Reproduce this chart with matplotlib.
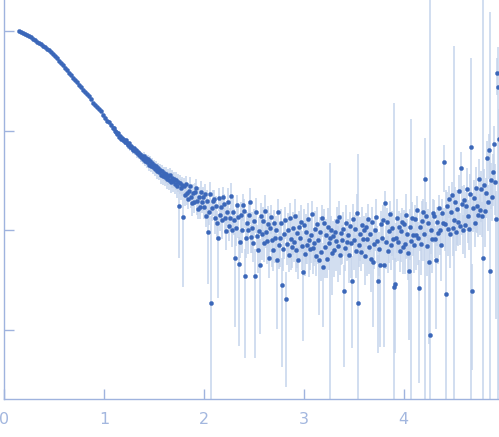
import numpy as np
import matplotlib
matplotlib.use("Agg")
import matplotlib.pyplot as plt
from matplotlib.ticker import FixedLocator, NullLocator, NullFormatter

# scattering vector (low q part, coarse sampling)
q_low = [0.15, 0.17, 0.19, 0.21, 0.23, 0.25, 0.27, 0.29, 0.31, 0.33,
         0.35, 0.37, 0.39, 0.41, 0.43, 0.45, 0.47, 0.49, 0.51, 0.53,
         0.55, 0.57, 0.59, 0.61, 0.63, 0.65, 0.67, 0.69, 0.71, 0.73,
         0.75, 0.77, 0.79, 0.81, 0.83, 0.85, 0.87, 0.89, 0.91, 0.93,
         0.95, 0.97, 0.99, 1.01, 1.03, 1.05, 1.07, 1.09]

# log10 intensity for the low q part
logI_low = [0.00, -0.01, -0.02, -0.03, -0.04, -0.05, -0.06, -0.08, -0.09, -0.11,
            -0.12, -0.13, -0.15, -0.16, -0.18, -0.19, -0.21, -0.23, -0.25, -0.27,
            -0.30, -0.32, -0.34, -0.37, -0.39, -0.42, -0.44, -0.47, -0.49, -0.51,
            -0.54, -0.56, -0.59, -0.61, -0.63, -0.65, -0.68, -0.72, -0.74, -0.76,
            -0.78, -0.80, -0.84, -0.87, -0.90, -0.91, -0.94, -0.97]

# relative error (sigma / I) for the low q part
err_low = [
    0.01, 0.01, 0.01, 0.01, 0.01, 0.01, 0.01, 0.01, 0.01, 0.01,
    0.01, 0.01, 0.01, 0.01, 0.01, 0.01, 0.01, 0.01, 0.01, 0.01,
    0.01, 0.01, 0.01, 0.01, 0.01, 0.01, 0.01, 0.01, 0.01, 0.01,
    0.02, 0.02, 0.02, 0.02, 0.02, 0.02, 0.02, 0.02, 0.02, 0.02,
    0.02, 0.02, 0.03, 0.03, 0.03, 0.03, 0.03, 0.03]

q_high = [
    1.10, 1.11, 1.12, 1.13, 1.14, 1.15, 1.16, 1.17, 1.18, 1.19,
    1.20, 1.21, 1.22, 1.23, 1.24, 1.25, 1.26, 1.27, 1.28, 1.29,
    1.30, 1.31, 1.32, 1.33, 1.34, 1.35, 1.36, 1.37, 1.38, 1.39,
    1.40, 1.41, 1.42, 1.43, 1.44, 1.45, 1.46, 1.47, 1.48, 1.49,
    1.50, 1.51, 1.52, 1.53, 1.54, 1.55, 1.56, 1.57, 1.58, 1.59,
    1.60, 1.61, 1.62, 1.63, 1.64, 1.65, 1.66, 1.67, 1.68, 1.69,
    1.70, 1.71, 1.72, 1.73, 1.74, 1.75, 1.76, 1.77, 1.78, 1.79,
    1.80, 1.81, 1.82, 1.83, 1.84, 1.85, 1.86, 1.87, 1.88, 1.89,
    1.90, 1.91, 1.92, 1.93, 1.94, 1.95, 1.96, 1.97, 1.98, 1.99,
    2.00, 2.01, 2.02, 2.03, 2.04, 2.05, 2.06, 2.07, 2.08, 2.09,
    2.10, 2.11, 2.12, 2.13, 2.14, 2.15, 2.16, 2.17, 2.18, 2.19,
    2.20, 2.21, 2.22, 2.23, 2.24, 2.25, 2.26, 2.27, 2.28, 2.29,
    2.30, 2.31, 2.32, 2.33, 2.34, 2.35, 2.36, 2.37, 2.38, 2.39,
    2.40, 2.41, 2.42, 2.43, 2.44, 2.45, 2.46, 2.47, 2.48, 2.49,
    2.50, 2.51, 2.52, 2.53, 2.54, 2.55, 2.56, 2.57, 2.58, 2.59,
    2.60, 2.61, 2.62, 2.63, 2.64, 2.65, 2.66, 2.67, 2.68, 2.69,
    2.70, 2.71, 2.72, 2.73, 2.74, 2.75, 2.76, 2.77, 2.78, 2.79,
    2.80, 2.81, 2.82, 2.83, 2.84, 2.85, 2.86, 2.87, 2.88, 2.89,
    2.90, 2.91, 2.92, 2.93, 2.94, 2.95, 2.96, 2.97, 2.98, 2.99,
    3.00, 3.01, 3.02, 3.03, 3.04, 3.05, 3.06, 3.07, 3.08, 3.09,
    3.10, 3.11, 3.12, 3.13, 3.14, 3.15, 3.16, 3.17, 3.18, 3.19,
    3.20, 3.21, 3.22, 3.23, 3.24, 3.25, 3.26, 3.27, 3.28, 3.29,
    3.30, 3.31, 3.32, 3.33, 3.34, 3.35, 3.36, 3.37, 3.38, 3.39,
    3.40, 3.41, 3.42, 3.43, 3.44, 3.45, 3.46, 3.47, 3.48, 3.49,
    3.50, 3.51, 3.52, 3.53, 3.54, 3.55, 3.56, 3.57, 3.58, 3.59,
    3.60, 3.61, 3.62, 3.63, 3.64, 3.65, 3.66, 3.67, 3.68, 3.69,
    3.70, 3.71, 3.72, 3.73, 3.74, 3.75, 3.76, 3.77, 3.78, 3.79,
    3.80, 3.81, 3.82, 3.83, 3.84, 3.85, 3.86, 3.87, 3.88, 3.89,
    3.90, 3.91, 3.92, 3.93, 3.94, 3.95, 3.96, 3.97, 3.98, 3.99,
    4.00, 4.01, 4.02, 4.03, 4.04, 4.05, 4.06, 4.07, 4.08, 4.09,
    4.10, 4.11, 4.12, 4.13, 4.14, 4.15, 4.16, 4.17, 4.18, 4.19,
    4.20, 4.21, 4.22, 4.23, 4.24, 4.25, 4.26, 4.27, 4.28, 4.29,
    4.30, 4.31, 4.32, 4.33, 4.34, 4.35, 4.36, 4.37, 4.38, 4.39,
    4.40, 4.41, 4.42, 4.43, 4.44, 4.45, 4.46, 4.47, 4.48, 4.49,
    4.50, 4.51, 4.52, 4.53, 4.54, 4.55, 4.56, 4.57, 4.58, 4.59,
    4.60, 4.61, 4.62, 4.63, 4.64, 4.65, 4.66, 4.67, 4.68, 4.69,
    4.70, 4.71, 4.72, 4.73, 4.74, 4.75, 4.76, 4.77, 4.78, 4.79,
    4.80, 4.81, 4.82, 4.83, 4.84, 4.85, 4.86, 4.87, 4.88, 4.89,
    4.90, 4.91, 4.92, 4.93, 4.94, 4.95]

logI_high = [
    -0.97, -1.00, -1.01, -1.03, -1.02, -1.06, -1.05, -1.08, -1.07, -1.10,
    -1.09, -1.12, -1.10, -1.13, -1.15, -1.13, -1.17, -1.16, -1.18, -1.20,
    -1.18, -1.21, -1.20, -1.23, -1.22, -1.25, -1.24, -1.27, -1.26, -1.29,
    -1.26, -1.31, -1.28, -1.32, -1.29, -1.35, -1.31, -1.36, -1.33, -1.37,
    -1.35, -1.39, -1.36, -1.41, -1.38, -1.42, -1.40, -1.45, -1.41, -1.46,
    -1.43, -1.47, -1.44, -1.49, -1.46, -1.50, -1.45, -1.52, -1.48, -1.51,
    -1.49, -1.54, -1.50, -1.56, -1.52, -1.76, -1.53, -1.58, -1.55, -1.87,
    -1.56, -1.65, -1.54, -1.63, -1.69, -1.61, -1.56, -1.67, -1.73, -1.63,
    -1.72, -1.62, -1.58, -1.71, -1.79, -1.67, -1.77, -1.62, -1.72, -1.67,
    -1.77, -1.64, -1.86, -1.71, -2.02, -1.82, -1.64, -2.73, -1.78, -1.71,
    -1.69, -1.88, -1.76, -1.93, -2.08, -1.68, -1.85, -1.77, -1.90, -1.67,
    -1.74, -1.88, -2.01, -1.82, -1.72, -1.96, -1.88, -1.66, -2.00, -1.82,
    -1.90, -2.28, -1.98, -1.75, -1.87, -2.34, -2.12, -1.85, -2.00, -1.75,
    -1.81, -2.46, -2.08, -1.93, -2.00, -1.85, -1.72, -2.07, -1.98, -2.13,
    -1.91, -2.46, -1.82, -2.06, -2.20, -2.01, -2.35, -1.86, -2.04, -1.91,
    -2.13, -1.81, -2.02, -2.11, -1.94, -2.28, -1.98, -1.87, -2.10, -2.20,
    -1.93, -2.08, -2.00, -2.30, -1.82, -2.15, -2.08, -1.93, -2.55, -2.19,
    -2.04, -1.90, -2.69, -2.14, -2.00, -2.25, -1.88, -2.09, -2.17, -1.98,
    -2.12, -1.86, -2.20, -2.03, -2.30, -1.97, -2.08, -1.92, -2.16, -2.42,
    -1.95, -2.24, -2.02, -2.15, -1.89, -2.10, -2.19, -2.05, -1.84, -2.18,
    -2.13, -1.99, -2.26, -1.94, -2.10, -2.30, -2.02, -2.22, -1.88, -2.37,
    -1.93, -2.17, -2.05, -2.29, -1.97, -2.13, -2.08, -2.00, -2.23, -2.06,
    -2.20, -2.02, -2.11, -1.91, -2.16, -1.87, -2.25, -2.03, -2.10, -1.99,
    -2.61, -2.18, -1.93, -2.12, -2.05, -2.25, -1.96, -2.13, -2.51, -1.89,
    -2.10, -1.99, -2.21, -1.83, -2.73, -2.15, -2.04, -2.22, -1.95, -2.09,
    -2.00, -2.26, -1.97, -2.09, -1.89, -2.17, -2.04, -2.29, -1.92, -2.32,
    -2.14, -2.00, -1.87, -2.11, -2.51, -2.19, -2.35, -1.94, -2.08, -1.90,
    -2.35, -1.73, -2.12, -1.92, -2.21, -2.01, -1.84, -2.15, -1.98, -2.09,
    -2.57, -2.54, -2.08, -1.88, -2.12, -1.97, -2.21, -2.01, -1.92, -2.17,
    -1.94, -2.14, -1.85, -2.04, -2.23, -2.41, -1.97, -2.11, -1.88, -2.05,
    -2.15, -1.89, -2.05, -1.80, -2.08, -2.58, -1.97, -2.14, -1.91, -1.82,
    -2.04, -1.49, -1.86, -2.16, -1.93, -2.32, -3.05, -2.00, -2.09, -1.83,
    -1.86, -2.09, -2.30, -1.92, -2.03, -1.78, -2.00, -2.15, -1.83, -1.93,
    -1.32, -1.94, -2.64, -1.76, -1.99, -1.69, -2.04, -1.82, -1.65, -1.98,
    -1.90, -1.72, -2.02, -1.79, -1.92, -1.61, -1.96, -1.38, -1.74, -2.00,
    -1.70, -1.95, -1.76, -1.59, -1.86, -1.99, -1.64, -1.17, -2.61, -1.78,
    -1.68, -1.93, -1.58, -1.76, -1.85, -1.49, -1.80, -1.59, -1.86, -2.28,
    -1.55, -1.81, -1.63, -1.28, -1.72, -1.20, -2.41, -1.50, -1.67, -1.42,
    -1.14, -1.52, -1.89, -0.42, -0.56, -1.08]

err_high = [
    0.03, 0.04, 0.03, 0.04, 0.04, 0.05, 0.04, 0.05, 0.04, 0.05,
    0.05, 0.06, 0.05, 0.06, 0.07, 0.06, 0.07, 0.06, 0.07, 0.08,
    0.07, 0.08, 0.07, 0.09, 0.08, 0.09, 0.08, 0.10, 0.09, 0.10,
    0.10, 0.11, 0.10, 0.12, 0.11, 0.13, 0.12, 0.13, 0.12, 0.14,
    0.13, 0.15, 0.14, 0.16, 0.14, 0.17, 0.15, 0.18, 0.16, 0.18,
    0.17, 0.19, 0.18, 0.20, 0.18, 0.21, 0.19, 0.22, 0.20, 0.22,
    0.19, 0.21, 0.20, 0.23, 0.20, 0.70, 0.22, 0.24, 0.22, 0.80,
    0.20, 0.22, 0.20, 0.24, 0.21, 0.19, 0.25, 0.22, 0.26, 0.23,
    0.22, 0.25, 0.23, 0.27, 0.21, 0.28, 0.24, 0.30, 0.23, 0.27,
    0.24, 0.28, 0.22, 0.30, 0.70, 0.26, 0.32, 6.50, 0.25, 0.29,
    0.23, 0.31, 0.27, 0.33, 0.75, 0.26, 0.30, 0.24, 0.35, 0.28,
    0.26, 0.31, 0.36, 0.28, 0.38, 0.30, 0.25, 0.35, 0.32, 0.40,
    0.29, 0.80, 0.34, 0.28, 0.38, 0.85, 0.31, 0.36, 0.41, 0.30,
    0.32, 0.85, 0.37, 0.29, 0.42, 0.33, 0.39, 0.31, 0.44, 0.35,
    0.33, 0.85, 0.38, 0.30, 0.42, 0.39, 0.80, 0.34, 0.45, 0.37,
    0.35, 0.46, 0.31, 0.41, 0.52, 0.37, 0.43, 0.33, 0.47, 0.39,
    0.35, 0.44, 0.38, 0.80, 0.34, 0.42, 0.49, 0.37, 0.85, 0.40,
    0.44, 0.36, 0.87, 0.39, 0.47, 0.33, 0.43, 0.51, 0.38, 0.46,
    0.37, 0.48, 0.40, 0.55, 0.35, 0.44, 0.38, 0.50, 0.42, 0.80,
    0.46, 0.40, 0.52, 0.36, 0.44, 0.58, 0.39, 0.48, 0.34, 0.45,
    0.41, 0.53, 0.37, 0.47, 0.43, 0.72, 0.40, 0.49, 0.35, 0.75,
    0.39, 0.51, 0.44, 0.35, 0.55, 0.46, 4.70, 0.37, 0.62, 0.40,
    0.46, 0.36, 0.50, 0.40, 0.57, 0.44, 0.37, 0.52, 0.42, 0.47,
    0.83, 0.42, 0.53, 0.35, 0.44, 0.48, 0.38, 0.56, 0.79, 0.43,
    0.50, 0.38, 0.46, 0.54, 30.0, 0.40, 0.47, 0.35, 0.52, 0.44,
    0.39, 0.49, 0.37, 0.58, 0.43, 0.46, 0.34, 0.53, 0.41, 0.78,
    0.44, 0.38, 0.51, 0.40, 0.81, 0.47, 0.85, 0.36, 0.49, 0.42,
    0.85, 0.33, 0.46, 0.37, 0.40, 0.52, 0.35, 0.44, 0.48, 0.38,
    70.0, 0.80, 0.42, 0.55, 0.36, 0.45, 0.38, 0.51, 0.40, 0.46,
    0.40, 0.50, 0.64, 0.43, 0.47, 0.80, 0.53, 16.0, 0.44, 0.39,
    0.48, 0.40, 0.55, 0.38, 0.46, 0.89, 0.42, 0.51, 0.60, 0.37,
    0.46, 1.60, 0.40, 0.50, 0.37, 0.85, 5000.0, 0.43, 0.54, 0.39,
    0.46, 0.36, 0.80, 0.42, 0.51, 0.35, 0.44, 0.57, 0.39, 0.42,
    0.50, 0.46, 10.0, 0.39, 0.47, 0.36, 0.54, 0.42, 0.35, 0.48,
    55.0, 0.42, 0.36, 0.56, 0.42, 0.47, 0.35, 0.45, 0.51, 0.43,
    0.42, 0.53, 0.40, 0.62, 0.46, 0.38, 0.58, 7.00, 0.84, 0.43,
    0.51, 0.42, 0.64, 0.46, 0.40, 0.60, 0.44, 0.53, 0.39, 400.0,
    0.46, 0.56, 0.43, 0.50, 0.49, 0.48, 400.0, 0.49, 0.42, 0.54,
    0.55, 0.53, 0.90, 0.40, 1.50, 0.997]

xticks = [0, 1, 2, 3, 4]
ydecades = [1e-3, 1e-2, 1e-1, 1]

q = np.array(q_low + q_high)
I = 10.0 ** np.array(logI_low + logI_high)
sig = I * np.array(err_low + err_high)

axis_col = "#9fb3de"
fig = plt.figure(figsize=(4.99, 4.37), dpi=100)
ax = fig.add_axes([4 / 499, 38 / 437, 495 / 499, 399 / 437])

lo = np.clip(I - sig, 1e-9, None)
ax.vlines(q, lo, I + sig, color="#c5d4ec", lw=1.1, zorder=1)
ax.plot(q, I, "o", ms=3.1, color="#3b67b9", mec="#3b67b9", mew=0.2, zorder=2)

ax.set_yscale("log")
ax.set_xlim(0, 4.955)
ax.set_ylim(10 ** -3.698, 10 ** 0.312)

ax.xaxis.set_major_locator(FixedLocator(xticks))
ax.yaxis.set_major_locator(FixedLocator(ydecades))
ax.yaxis.set_minor_locator(NullLocator())
ax.yaxis.set_major_formatter(NullFormatter())
ax.yaxis.set_minor_formatter(NullFormatter())

for side in ["top", "right"]:
    ax.spines[side].set_visible(False)
for side in ["left", "bottom"]:
    ax.spines[side].set_color(axis_col)
    ax.spines[side].set_linewidth(1)

ax.tick_params(axis="both", direction="in", length=7, width=1,
               color=axis_col, labelcolor="#a3b7df", labelsize=11.5, pad=9)

fig.savefig("out.png", dpi=100)
